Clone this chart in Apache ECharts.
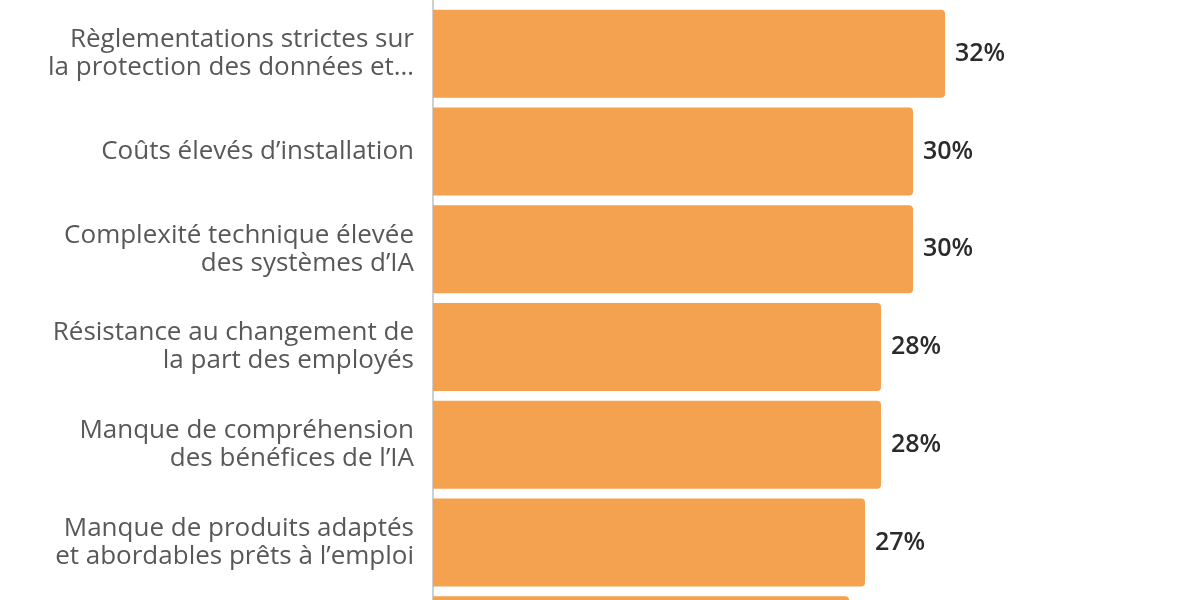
<!DOCTYPE html>
<html>
<head>
<meta charset="utf-8">
<script src="https://cdn.jsdelivr.net/npm/echarts@6/dist/echarts.min.js"></script>
<style>
html, body { margin: 0; padding: 0; background: #fff; overflow: hidden; width: 1200px; height: 600px; }
/* le graphique est plus haut que la fenêtre : la 1re et la dernière barre sont coupées */
#chart { position: absolute; left: 0; top: -93px; width: 1200px; height: 782px; }
</style>
</head>
<body>
<div id="chart"></div>
<script>
// catégories (la première et la dernière sont hors du cadre)
var categories = [
  '',
  'Règlementations strictes sur\nla protection des données et…',
  'Coûts élevés d’installation',
  'Complexité technique élevée\ndes systèmes d’IA',
  'Résistance au changement de\nla part des employés',
  'Manque de compréhension\ndes bénéfices de l’IA',
  'Manque de produits adaptés\net abordables prêts à l’emploi',
  ' '
];
var values = [32, 32, 30, 30, 28, 28, 27, 26];

var chart = echarts.init(document.getElementById('chart'));

var option = {
  animation: false,
  grid: {
    left: 433,
    right: 127,
    top: 0,
    bottom: 0,
    containLabel: false
  },
  xAxis: {
    type: 'value',
    min: 0,
    max: 40,
    show: false,
    splitLine: { show: false }
  },
  yAxis: {
    type: 'category',
    data: categories,
    inverse: true,
    axisTick: { show: false },
    axisLine: {
      show: true,
      lineStyle: { color: '#cfcfcf', width: 2 }
    },
    axisLabel: {
      margin: 19,
      color: '#585858',
      fontSize: 26,
      lineHeight: 28,
      fontFamily: 'Open Sans',
      align: 'right',
      padding: [8, 0, 0, 0]
    }
  },
  series: [
    {
      type: 'bar',
      data: values,
      barWidth: 88,
      itemStyle: {
        color: '#F4A24F',
        borderRadius: [0, 4, 4, 0]
      },
      label: {
        show: true,
        position: 'right',
        distance: 10,
        formatter: '{c}%',
        color: '#2b2b2b',
        fontSize: 25,
        fontWeight: 600,
        fontFamily: 'Open Sans',
        padding: [4, 0, 0, 0]
      }
    }
  ]
};

chart.setOption(option);
</script>
</body>
</html>
